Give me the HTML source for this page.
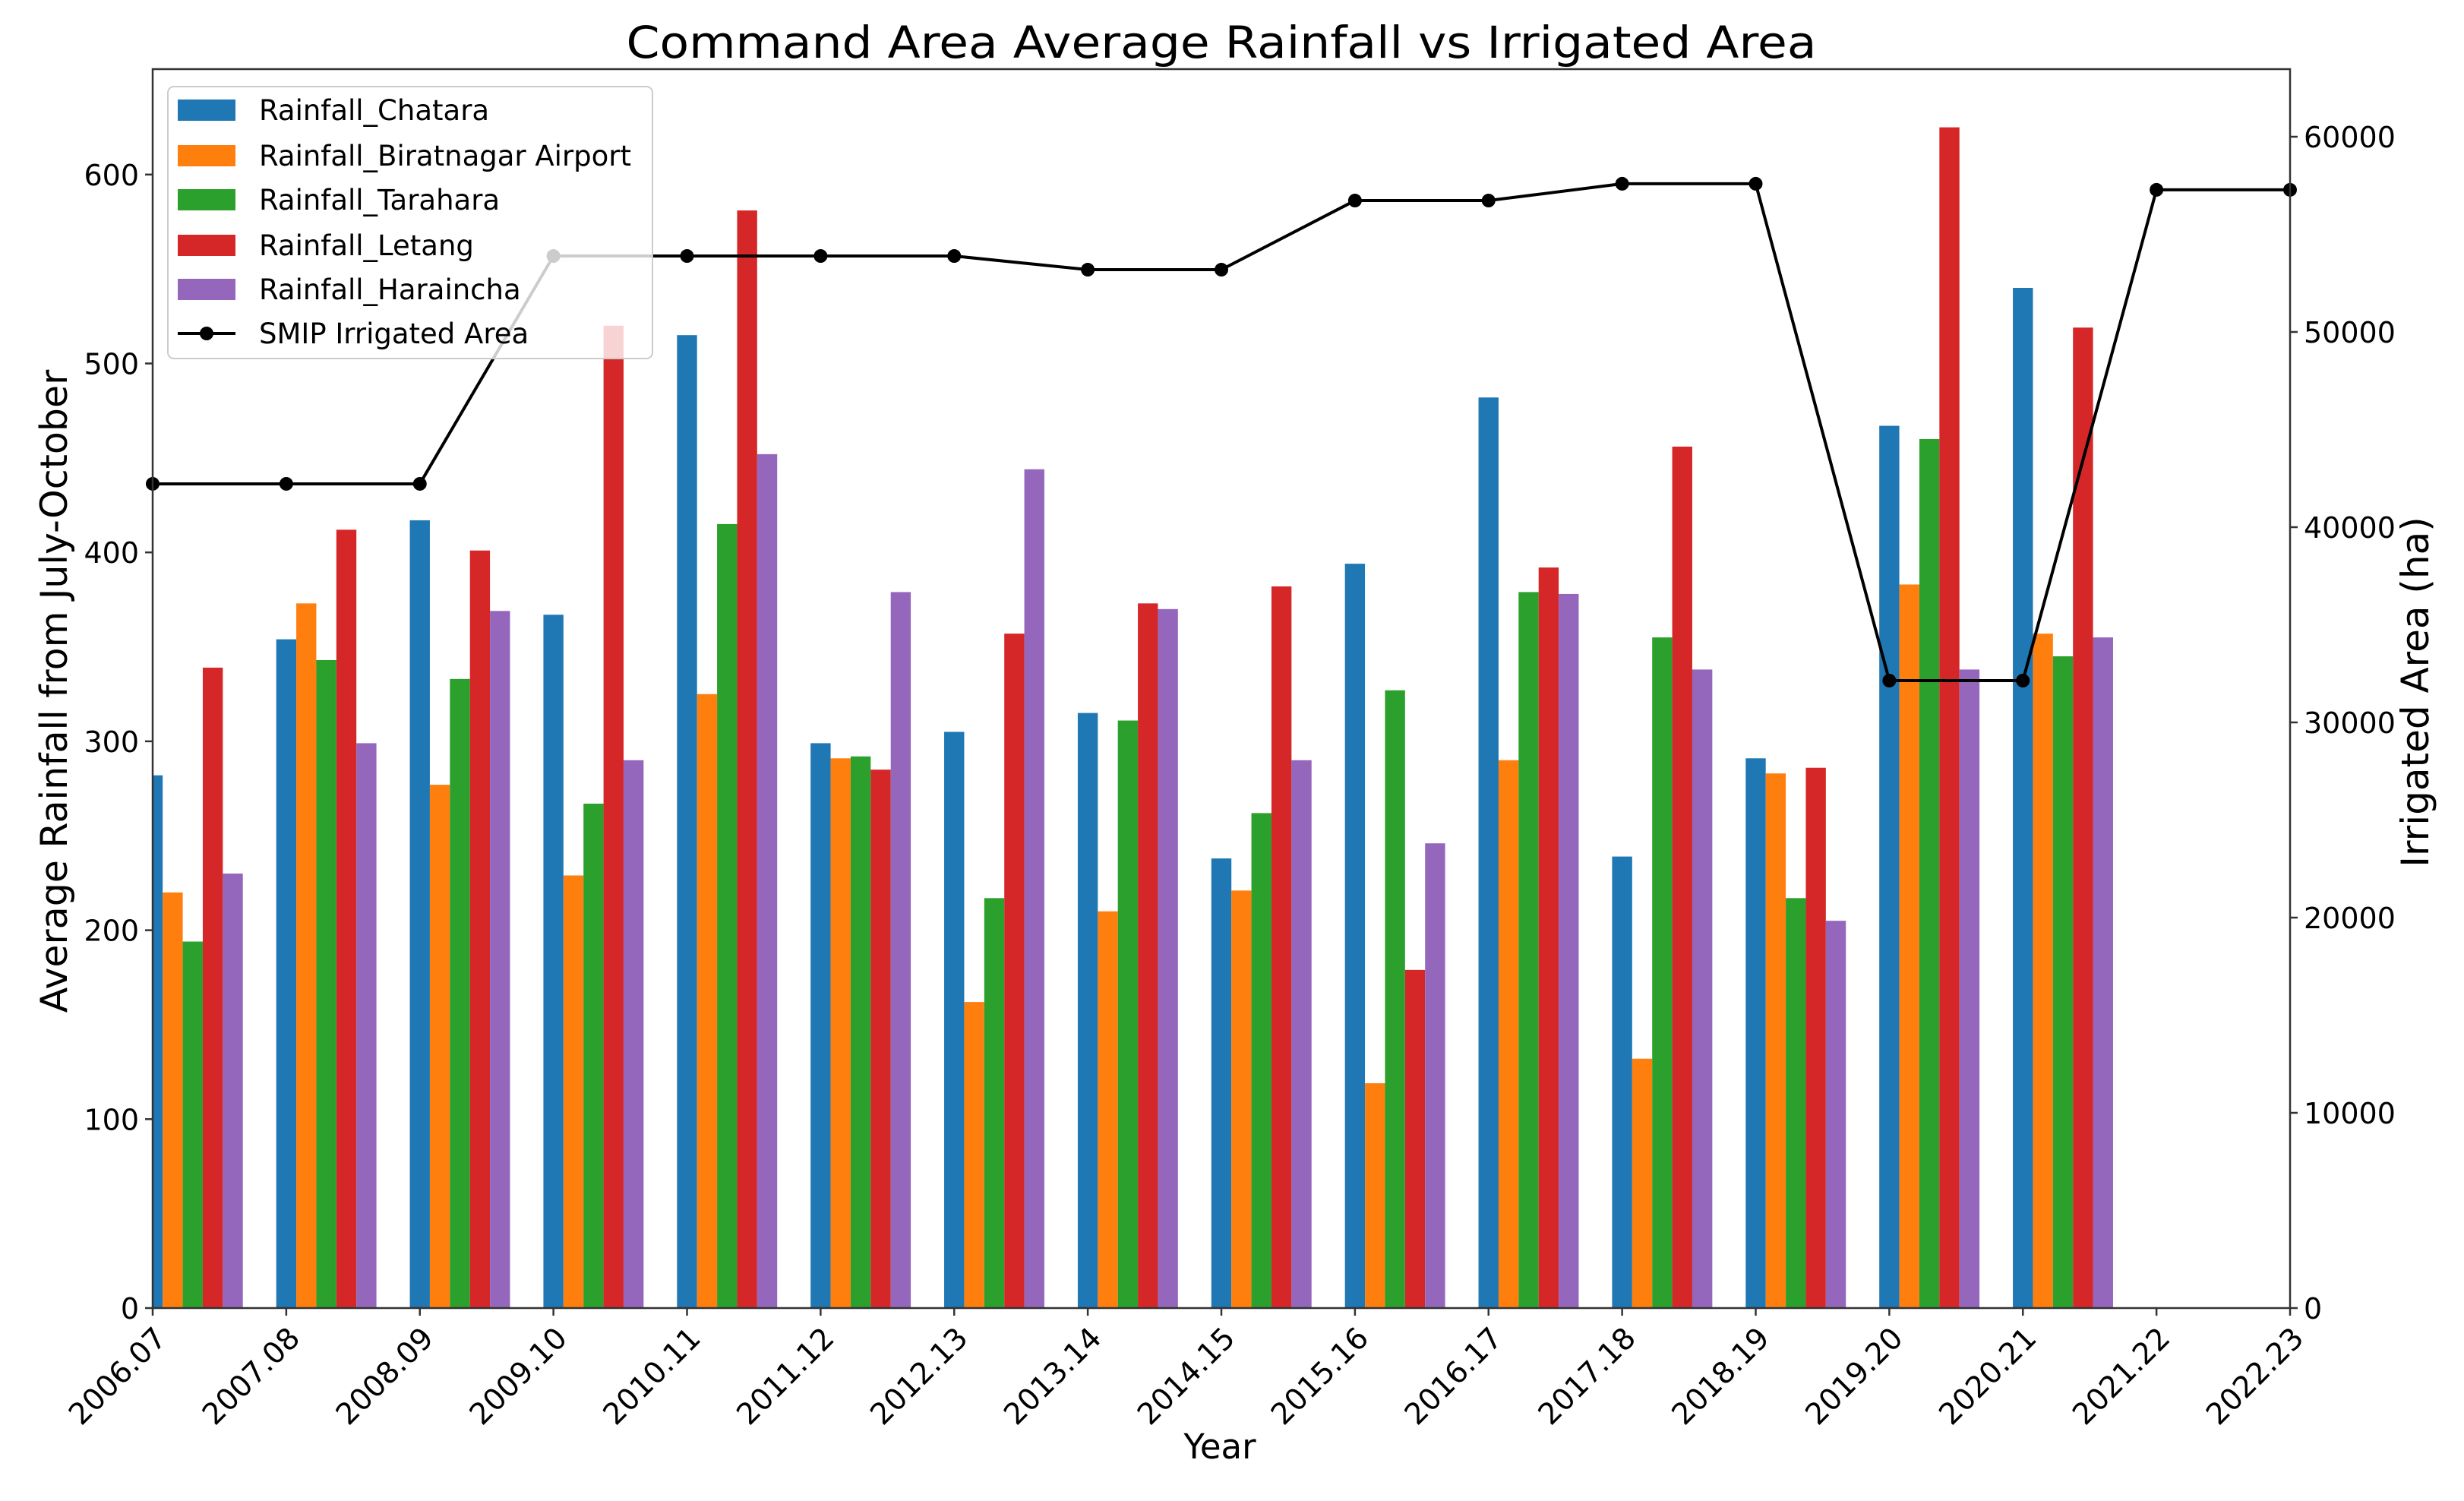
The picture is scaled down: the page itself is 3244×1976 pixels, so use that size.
<!DOCTYPE html>
<html><head><meta charset="utf-8"><style>
html,body{margin:0;padding:0;background:#fff;}
svg text{font-family:"DejaVu Sans","Liberation Sans",sans-serif;fill:#000;}
</style></head><body>
<svg id="chart" width="3244" height="1971" viewBox="0 0 3244 1971" xmlns="http://www.w3.org/2000/svg">
<rect width="3244" height="1971" fill="#fff"/>
<text x="1608" y="76" font-size="58" text-anchor="middle" textLength="1567" lengthAdjust="spacingAndGlyphs">Command Area Average Rainfall vs Irrigated Area</text>
<g id="bars"></g>
<g id="line"></g>
<g id="axes"></g>
<g id="legend"></g>
</svg>
<script>
const categories = ["2006.07","2007.08","2008.09","2009.10","2010.11","2011.12","2012.13","2013.14","2014.15","2015.16","2016.17","2017.18","2018.19","2019.20","2020.21","2021.22","2022.23"];
const seriesNames = ["Rainfall_Chatara","Rainfall_Biratnagar Airport","Rainfall_Tarahara","Rainfall_Letang","Rainfall_Haraincha"];
const chatara    = [282,354,417,367,515,299,305,315,238,394,482,239,291,467,540];
const biratnagar = [220,373,277,229,325,291,162,210,221,119,290,132,283,383,357];
const tarahara   = [194,343,333,267,415,292,217,311,262,327,379,355,217,460,345];
const letang     = [339,412,401,520,581,285,357,373,382,179,392,456,286,625,519];
const haraincha  = [230,299,369,290,452,379,444,370,290,246,378,338,205,338,355];
const irrigated  = [42220,42220,42220,53890,53890,53890,53890,53190,53190,56730,56730,57590,57590,32140,32140,57280,57280];
const leftTicks  = [0,100,200,300,400,500,600];
const rightTicks = [0,10000,20000,30000,40000,50000,60000];

const colors = ["#1f77b4","#ff7f0e","#2ca02c","#d62728","#9467bd"];
const series = [chatara,biratnagar,tarahara,letang,haraincha];
const L=201,R=3015,T=91,B=1722;
const yMaxL=(B-T)/2.487, yMaxR=(B-T)/257*10000;
const xs = i => L + i*(R-L)/(categories.length-1);
const yL = v => B - v/yMaxL*(B-T);
const yR = v => B - v/yMaxR*(B-T);
const bw = 0.15*(R-L)/(categories.length-1);
const NS="http://www.w3.org/2000/svg";
function mk(tag, attrs, parent){const e=document.createElementNS(NS,tag);for(const k in attrs)e.setAttribute(k,attrs[k]);parent.appendChild(e);return e;}
const svg=document.getElementById('chart');
const defs=mk('defs',{},svg);
const cp=mk('clipPath',{id:'clip'},defs);
mk('rect',{x:L,y:T,width:R-L,height:B-T},cp);
const gb=document.getElementById('bars');gb.setAttribute('clip-path','url(#clip)');
series.forEach((s,si)=>{s.forEach((v,i)=>{
  const cx=xs(i)+si*bw;
  const r=mk('rect',{x:cx-bw/2,y:yL(v),width:bw,height:B-yL(v),fill:colors[si]},gb);
  
  
});});
const gl=document.getElementById('line');
const pts=irrigated.map((v,i)=>xs(i)+','+yR(v)).join(' ');
const pl=mk('polyline',{points:pts,fill:'none',stroke:'#000','stroke-width':4},gl);


irrigated.forEach((v,i)=>{const c=mk('circle',{cx:xs(i),cy:yR(v),r:9,fill:'#000'},gl);
  
  });
const ga=document.getElementById('axes');
const frame=mk('rect',{x:L,y:T,width:R-L,height:B-T,fill:'none',stroke:'#333','stroke-width':2.5},ga);


leftTicks.forEach(v=>{const y=yL(v);mk('line',{x1:L-10,x2:L,y1:y,y2:y,stroke:'#333','stroke-width':2.5},ga);
  const t=mk('text',{x:L-18,y:y+14,'font-size':38,'text-anchor':'end'},ga);t.textContent=v;
  
  });
rightTicks.forEach(v=>{const y=yR(v);mk('line',{x1:R,x2:R+10,y1:y,y2:y,stroke:'#333','stroke-width':2.5},ga);
  const t=mk('text',{x:R+18,y:y+14,'font-size':38,'text-anchor':'start'},ga);t.textContent=v;
  
  });
categories.forEach((c,i)=>{const x=xs(i);mk('line',{x1:x,x2:x,y1:B,y2:B+10,stroke:'#333','stroke-width':2.5},ga);
  const ax=x+20, ay=B+42;
  const t=mk('text',{x:ax,y:ay,'font-size':39,'text-anchor':'end',transform:`rotate(-45 ${ax} ${ay})`},ga);t.textContent=c;
  
  });
let t=mk('text',{x:1606,y:1920,'font-size':45,'text-anchor':'middle'},ga);t.textContent='Year';


t=mk('text',{x:88,y:910,'font-size':49,'text-anchor':'middle',transform:'rotate(-90 88 910)'},ga);t.textContent='Average Rainfall from July-October';


t=mk('text',{x:3197,y:911,'font-size':50,'text-anchor':'middle',transform:'rotate(-90 3197 911)'},ga);t.textContent='Irrigated Area (ha)';


const lg=document.getElementById('legend');
const box=mk('rect',{x:221,y:114,width:638,height:358,rx:8,fill:'#fff','fill-opacity':0.8,stroke:'#ccc','stroke-width':2},lg);


const ly=[145,205,263,323,381,439];
seriesNames.forEach((n,i)=>{
  const p=mk('rect',{x:234,y:ly[i]-14,width:76,height:28,fill:colors[i]},lg);
  
  
  const tx=mk('text',{x:341,y:ly[i]+13,'font-size':37},lg);tx.textContent=n;
  
  
});
mk('line',{x1:234,x2:310,y1:ly[5],y2:ly[5],stroke:'#000','stroke-width':4},lg);
mk('circle',{cx:272,cy:ly[5],r:9,fill:'#000'},lg);
const lt=mk('text',{x:341,y:ly[5]+13,'font-size':37},lg);lt.textContent='SMIP Irrigated Area';


</script>
</body></html>
